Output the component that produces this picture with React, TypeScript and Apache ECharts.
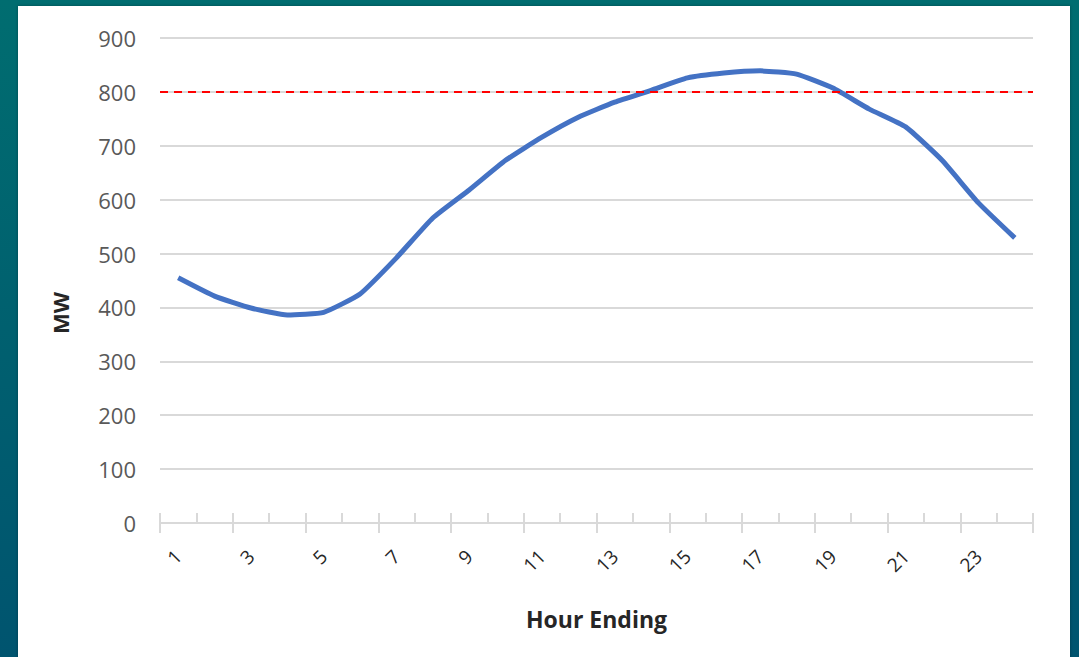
import React, { useEffect, useRef } from "react";
import * as echarts from "echarts";

const hours = Array.from({ length: 24 }, (_, i) => String(i + 1));
const loadMW = [455, 421, 399, 386, 391, 425, 492, 566, 618, 673, 716, 753, 781, 803, 826, 835, 839, 833, 807, 768, 735, 673, 594, 529];
const limitMW = 800;
const yTicks = { min: 0, max: 900, interval: 100 };
const xTitle = "Hour Ending";
const yTitle = "MW";

export default function App() {
  const ref = useRef<HTMLDivElement>(null);
  useEffect(() => {
    if (!ref.current) return;
    const chart = echarts.init(ref.current, undefined, { renderer: "svg" });
    const font = "'Open Sans', 'Liberation Sans', sans-serif";
    chart.setOption({
      animation: false,
      grid: { left: 160, right: 46, top: 38, bottom: 134, containLabel: false },
      graphic: [
        {
          type: "text",
          x: 60,
          y: 313,
          rotation: Math.PI / 2,
          style: {
            text: yTitle,
            fontSize: 22,
            fontWeight: "bold",
            fill: "#262626",
            fontFamily: font,
            align: "center",
            verticalAlign: "middle",
          },
        },
      ],
      xAxis: [
        {
          type: "category",
          data: hours,
          boundaryGap: true,
          position: "bottom",
          axisLine: { lineStyle: { color: "#d9d9d9", width: 2 } },
          axisTick: { show: true, length: 10, lineStyle: { color: "#d9d9d9", width: 2 } },
          axisLabel: { interval: 1, rotate: 45, fontSize: 19, color: "#262626", fontFamily: font, margin: 30 },
          name: xTitle,
          nameLocation: "middle",
          nameGap: 84,
          nameTextStyle: { fontSize: 23, fontWeight: "bold", color: "#262626", fontFamily: font },
        },
        {
          type: "category",
          data: hours,
          boundaryGap: true,
          position: "bottom",
          offset: 0,
          axisLine: { show: false },
          axisTick: { show: true, inside: true, length: 10, lineStyle: { color: "#d9d9d9", width: 2 } },
          axisLabel: { show: false },
        },
      ],
      yAxis: {
        type: "value",
        min: yTicks.min,
        max: yTicks.max,
        interval: yTicks.interval,
        axisLine: { show: false },
        axisTick: { show: false },
        splitLine: { lineStyle: { color: "#d9d9d9", width: 2 } },
        axisLabel: { fontSize: 22, color: "#595959", fontFamily: font, margin: 24 },
      },
      series: [
        {
          type: "line",
          data: loadMW,
          smooth: 0.15,
          symbol: "none",
          lineStyle: { color: "#4472c4", width: 5 },
          markLine: {
            silent: true,
            symbol: "none",
            label: { show: false },
            lineStyle: { color: "#ff0000", type: [8, 6], width: 2 },
            data: [{ yAxis: limitMW }],
          },
        },
      ],
    });
    return () => chart.dispose();
  }, []);

  return (
    <div
      style={{
        position: "fixed",
        left: 0,
        top: 0,
        width: 1079,
        height: 657,
        background: "linear-gradient(180deg, #006d70 0%, #00606f 50%, #00546f 100%)",
        overflow: "hidden",
      }}
    >
      <div
        style={{
          position: "absolute",
          left: 18,
          top: 6,
          width: 1052,
          height: 660,
          background: "#ffffff",
          boxShadow: "0 0 3px rgba(0,0,0,0.3)",
        }}
      />
      <div ref={ref} style={{ position: "absolute", left: 0, top: 0, width: 1079, height: 657 }} />
    </div>
  );
}
